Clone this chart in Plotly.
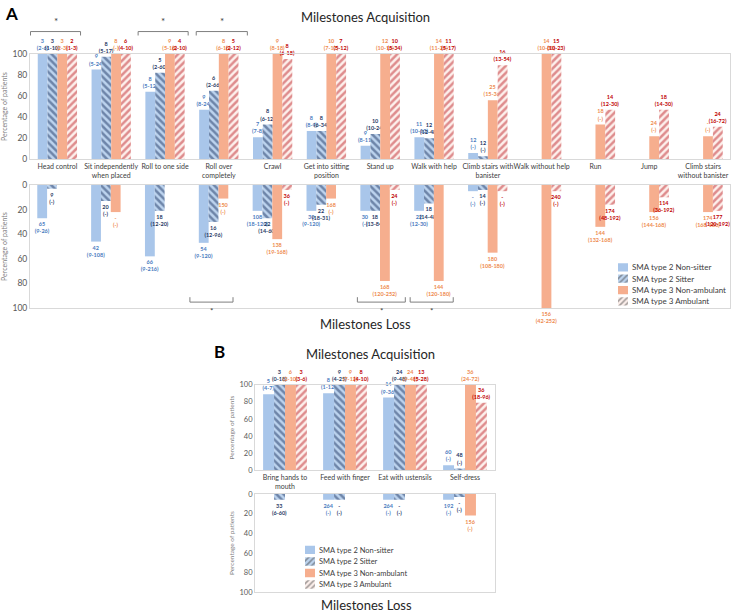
import plotly.graph_objects as go

# ---------------- DATA ----------------
series = ["SMA type 2 Non-sitter", "SMA type 2 Sitter",
          "SMA type 3 Non-ambulant", "SMA type 3 Ambulant"]

cats_A = ["Head control", "Sit independently when placed", "Roll to one side",
          "Roll over completely", "Crawl", "Get into sitting position", "Stand up",
          "Walk with help", "Climb stairs with banister", "Walk without help",
          "Run", "Jump", "Climb stairs without banister"]
ticks_A = ["Head control", "Sit independently<br>when placed", "Roll to one side",
           "Roll over<br>completely", "Crawl", "Get into sitting<br>position", "Stand up",
           "Walk with help", "Climb stairs with<br>banister", "Walk without help",
           "Run", "Jump", "Climb stairs<br>without banister"]

# Panel A - acquisition (% of patients)
acq_ns_A = [100, 85, 64, 47, 21, 27, 13, 21, 6, 0, 0, 0, 0]
acq_s_A = [100, 97, 82, 65, 33, 27, 24, 20, 3, 0, 0, 0, 0]
acq_na_A = [100, 100, 100, 100, 100, 100, 100, 100, 56, 100, 33, 22, 22]
acq_a_A = [100, 100, 100, 100, 95, 100, 100, 100, 89, 100, 47, 47, 31]
# median age (range), months
acq_ns_A_lbl = ["3<br>(2-6)", "9<br>(5-24)", "8<br>(5-12)", "9<br>(8-24)", "7<br>(7-8)", "8<br>(8-9)",
                "9<br>(8-11)", "11<br>(10-13)", "12<br>(-)", "", "", "", ""]
acq_s_A_lbl = ["3<br>(1-10)", "8<br>(5-17)", "5<br>(2-60)", "6<br>(2-66)", "8<br>(6-12)", "8<br>(6-34)",
               "10<br>(10-24)", "12<br>(12-48)", "12<br>(-)", "", "", "", ""]
acq_na_A_lbl = ["3<br>(2-3)", "8<br>(-)", "9<br>(5-16)", "8<br>(6-16)", "9<br>(8-18)", "10<br>(7-17)",
                "12<br>(10-16)", "14<br>(11-24)", "25<br>(15-36)", "14<br>(10-30)", "18<br>(-)",
                "24<br>(-)", "-<br>(-)"]
acq_a_A_lbl = ["2<br>(1-3)", "6<br>(4-10)", "4<br>(2-10)", "5<br>(2-12)", "8<br>(6-18)", "7<br>(5-12)",
               "10<br>(5-34)", "11<br>(5-17)", "16<br>(13-54)", "15<br>(10-23)", "14<br>(12-30)",
               "18<br>(14-30)", "24<br>(16-72)"]

# Panel A - loss (% of patients)
loss_ns_A = [27, 46, 58, 47, 21, 21, 21, 21, 5, 0, 0, 0, 0]
loss_s_A = [3, 13, 21, 30, 27, 16, 21, 15, 4, 0, 0, 0, 0]
loss_na_A = [0, 22, 0, 11, 44, 11, 78, 78, 55, 100, 34, 22, 22]
loss_a_A = [0, 0, 0, 0, 4, 0, 4, 0, 5, 5, 16, 10, 21]
loss_ns_A_lbl = ["65<br>(9-26)", "42<br>(9-108)", "66<br>(9-216)", "54<br>(9-120)", "108<br>(18-120)",
                 "30<br>(9-120)", "30<br>(-)", "22<br>(12-30)", "-<br>(-)", "", "", "", ""]
loss_s_A_lbl = ["9<br>(-)", "20<br>(-)", "18<br>(12-20)", "16<br>(12-96)", "22<br>(14-60)",
                "22<br>(18-31)", "18<br>(13-84)", "18<br>(14-48)", "14<br>(-)", "", "", "", ""]
loss_na_A_lbl = ["", "-<br>(-)", "", "150<br>(-)", "138<br>(19-168)", "168<br>(-)", "168<br>(120-252)",
                 "144<br>(120-180)", "180<br>(108-180)", "156<br>(42-252)", "144<br>(132-168)",
                 "156<br>(144-168)", "174<br>(168-180)"]
loss_a_A_lbl = ["", "", "", "", "36<br>(-)", "", "24<br>(-)", "", "-<br>(-)", "240<br>(-)",
                "174<br>(48-192)", "114<br>(36-192)", "177<br>(120-192)"]

cats_B = ["Bring hands to mouth", "Feed with finger", "Eat with ustensils", "Self-dress"]
ticks_B = ["Bring hands to<br>mouth", "Feed with finger", "Eat with ustensils", "Self-dress"]

acq_ns_B = [89, 90, 85, 6]
acq_s_B = [100, 100, 100, 2]
acq_na_B = [100, 100, 100, 100]
acq_a_B = [100, 100, 100, 79]
acq_ns_B_lbl = ["5<br>(4-7)", "8<br>(1-12)", "14<br>(9-36)", "60<br>(-)"]
acq_s_B_lbl = ["3<br>(0-18)", "9<br>(4-25)", "24<br>(9-48)", "48<br>(-)"]
acq_na_B_lbl = ["6<br>(2-10)", "9<br>(7-12)", "24<br>(9-48)", "36<br>(24-72)"]
acq_a_B_lbl = ["3<br>(3-6)", "8<br>(4-10)", "13<br>(5-28)", "36<br>(18-96)"]

loss_ns_B = [0, 6, 6, 6]
loss_s_B = [6, 6, 6, 3]
loss_na_B = [0, 0, 0, 22]
loss_a_B = [0, 0, 0, 0]
loss_ns_B_lbl = ["", "264<br>(-)", "264<br>(-)", "192<br>(-)"]
loss_s_B_lbl = ["33<br>(6-60)", "-<br>(-)", "-<br>(-)", "-<br>(-)"]
loss_na_B_lbl = ["", "", "", "156<br>(-)"]
loss_a_B_lbl = ["", "", "", ""]

# ---------------- STYLE ----------------
FONT = "Lato"
W, H = 732, 616
label_colors = ["#4a7bc0", "#1f3864", "#ee8a4e", "#c00000"]
fill_colors = ["#a9c6ea", "#bcd3ee", "#f6ae8e", "#fdf0ec"]
pat_shapes = ["", "\\", "", "/"]
pat_fg = ["#a9c6ea", "#1f3864", "#f6ae8e", "#c0282d"]
legend_pat_shapes = ["", "/", "", "/"]
legend_pat_fg = ["#a9c6ea", "#2e75b6", "#f6ae8e", "#c0282d"]


def marker_for(i, size=5):
    m = dict(color=fill_colors[i], line=dict(width=0))
    if pat_shapes[i]:
        m["pattern"] = dict(shape=pat_shapes[i], fgcolor=pat_fg[i], bgcolor=fill_colors[i],
                            size=size, solidity=0.5)
    return m


fig = go.Figure()


def add_panel(cats, vals, lbls, xa, ya, tsize):
    for i in range(4):
        fig.add_trace(go.Bar(
            x=cats, y=vals[i], text=lbls[i], name=series[i],
            textposition="outside", cliponaxis=False, constraintext="none",
            textfont=dict(size=tsize, color=label_colors[i], family=FONT, weight="bold"),
            marker=marker_for(i), xaxis=xa, yaxis=ya,
            showlegend=False, hoverinfo="skip"))


add_panel(cats_A, [acq_ns_A, acq_s_A, acq_na_A, acq_a_A],
          [acq_ns_A_lbl, acq_s_A_lbl, acq_na_A_lbl, acq_a_A_lbl], "x", "y", 5.5)
add_panel(cats_A, [loss_ns_A, loss_s_A, loss_na_A, loss_a_A],
          [loss_ns_A_lbl, loss_s_A_lbl, loss_na_A_lbl, loss_a_A_lbl], "x2", "y2", 5.5)
add_panel(cats_B, [acq_ns_B, acq_s_B, acq_na_B, acq_a_B],
          [acq_ns_B_lbl, acq_s_B_lbl, acq_na_B_lbl, acq_a_B_lbl], "x3", "y3", 5.5)
add_panel(cats_B, [loss_ns_B, loss_s_B, loss_na_B, loss_a_B],
          [loss_ns_B_lbl, loss_s_B_lbl, loss_na_B_lbl, loss_a_B_lbl], "x4", "y4", 5.5)

# compact legends: one swatch per series, labelled by a category axis
for xa, ya in [("x5", "y5"), ("x6", "y6")]:
    fig.add_trace(go.Bar(
        y=series, x=[1] * len(series), orientation="h", xaxis=xa, yaxis=ya,
        showlegend=False, hoverinfo="skip",
        marker=dict(color=fill_colors, line=dict(width=0),
                    pattern=dict(shape=legend_pat_shapes, fgcolor=legend_pat_fg,
                                 bgcolor=fill_colors, size=4, solidity=0.4))))


def px_x(p):
    return p / W


def px_y(p):
    return 1 - p / H


dom_xA = [px_x(30), px_x(730)]
dom_xB = [px_x(255), px_x(495)]
dom_yA1 = [px_y(157), px_y(49.5)]
dom_yA2 = [px_y(308), px_y(183)]
dom_yB1 = [px_y(473), px_y(386)]
dom_yB2 = [px_y(597), px_y(497)]

line_col = "#d9d9d9"
tick_col = "#595959"


def xax(domain, anchor, cats, ticks, show, size):
    return dict(domain=domain, anchor=anchor, type="category", categoryorder="array",
                categoryarray=cats, tickvals=cats, ticktext=ticks, showticklabels=show,
                tickangle=0, tickfont=dict(size=size, color="#404040", family=FONT), ticks="",
                showline=True, linecolor=line_col, mirror=True, showgrid=False)


def yax(domain, anchor, rng, size, tsize):
    return dict(domain=domain, anchor=anchor, range=rng, dtick=20, showgrid=False,
                zeroline=False, showline=True, linecolor=line_col, mirror=True, ticks="",
                tickfont=dict(size=size, color=tick_col, family=FONT),
                title=dict(text="Percentage of patients", standoff=4,
                           font=dict(size=tsize, color="#7f7f7f", family=FONT)))


def leg_x(domain):
    return dict(domain=domain, range=[0, 1], visible=False, fixedrange=True)


def leg_y(domain, anchor, size):
    return dict(domain=domain, anchor=anchor, type="category", categoryorder="array",
                categoryarray=series, autorange="reversed", side="right", ticks="",
                showline=False, showgrid=False, ticklabelstandoff=3,
                tickfont=dict(size=size, color="#404040", family=FONT))


fig.update_layout(
    width=W, height=H, margin=dict(l=0, r=0, t=0, b=0),
    paper_bgcolor="white", plot_bgcolor="white",
    barmode="group", bargap=0.27, bargroupgap=0,
    font=dict(family=FONT), showlegend=False,
    xaxis=xax(dom_xA, "y", cats_A, ticks_A, True, 7),
    yaxis=yax(dom_yA1, "x", [0, 100], 8.5, 7),
    xaxis2=xax(dom_xA, "y2", cats_A, ticks_A, False, 7),
    yaxis2=yax(dom_yA2, "x2", [100, 0], 8.5, 7),
    xaxis3=xax(dom_xB, "y3", cats_B, ticks_B, True, 7),
    yaxis3=yax(dom_yB1, "x3", [0, 100], 7.5, 6.5),
    xaxis4=xax(dom_xB, "y4", cats_B, ticks_B, False, 7),
    yaxis4=yax(dom_yB2, "x4", [100, 0], 7.5, 6.5),
    xaxis5=leg_x([px_x(618), px_x(628)]),
    yaxis5=leg_y([px_y(307), px_y(261)], "x5", 8),
    xaxis6=leg_x([px_x(305), px_x(315)]),
    yaxis6=leg_y([px_y(595), px_y(548)], "x6", 7.5),
)

annotations = [
    dict(text="<b>A</b>", x=px_x(3), y=px_y(9), xanchor="left", yanchor="middle",
         font=dict(size=17, color="black", family=FONT)),
    dict(text="<b>B</b>", x=px_x(212), y=px_y(352), xanchor="left", yanchor="middle",
         font=dict(size=17, color="black", family=FONT)),
    dict(text="Milestones Acquisition", x=px_x(365), y=px_y(12), yanchor="middle",
         font=dict(size=13, color="#262626", family=FONT)),
    dict(text="Milestones Loss", x=px_x(365), y=px_y(324), yanchor="middle",
         font=dict(size=13, color="#262626", family=FONT)),
    dict(text="Milestones Acquisition", x=px_x(370), y=px_y(355), yanchor="middle",
         font=dict(size=13, color="#262626", family=FONT)),
    dict(text="Milestones Loss", x=px_x(367), y=px_y(610), yanchor="middle",
         font=dict(size=13, color="#262626", family=FONT)),
]
for a in annotations:
    a.update(xref="paper", yref="paper", showarrow=False)

shapes = []
# significance brackets (category index offsets)
sig_top = [(-0.5, 0.43), (1.5, 2.43), (2.58, 3.53)]
for x0, x1 in sig_top:
    for seg in [(x0, 27, x1, 27), (x0, 27, x0, 31), (x1, 27, x1, 31)]:
        shapes.append(dict(type="line", xref="x", yref="paper", x0=seg[0], x1=seg[2],
                           y0=px_y(seg[1]), y1=px_y(seg[3]), line=dict(color="#7f7f7f", width=1)))
    annotations.append(dict(text="*", x=(x0 + x1) / 2, xref="x", y=px_y(24), yref="paper",
                            yanchor="bottom", showarrow=False,
                            font=dict(size=10, color="#404040", family=FONT)))
sig_bot = [(2.47, 3.27), (5.58, 6.47), (6.56, 7.36)]
for x0, x1 in sig_bot:
    for seg in [(x0, 302, x1, 302), (x0, 302, x0, 297), (x1, 302, x1, 297)]:
        shapes.append(dict(type="line", xref="x2", yref="paper", x0=seg[0], x1=seg[2],
                           y0=px_y(seg[1]), y1=px_y(seg[3]), line=dict(color="#7f7f7f", width=1)))
    annotations.append(dict(text="*", x=(x0 + x1) / 2, xref="x2", y=px_y(311), yref="paper",
                            yanchor="middle", showarrow=False,
                            font=dict(size=8, color="#404040", family=FONT)))

fig.update_layout(annotations=annotations, shapes=shapes)
fig.write_html("out.html", config={"displayModeBar": False},
               post_script="document.body.style.margin='0';document.body.style.overflow='hidden';")
